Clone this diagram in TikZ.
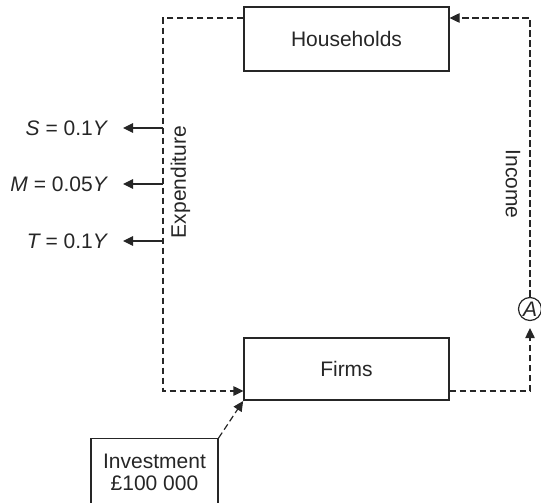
\documentclass[tikz,border=0pt]{standalone}
\usepackage{fontspec}
\setmainfont{Liberation Sans}
\usetikzlibrary{arrows.meta}
\begin{document}
\begin{tikzpicture}[x=1pt,y=-1pt,
  font=\fontsize{21}{22}\selectfont,
  every node/.style={text=black!85},
  boxnode/.style={draw=black!85, line width=1.2pt, minimum width=205pt, inner sep=0pt},
  flow/.style={draw=black!85, line width=1.2pt, dash pattern=on 6.5pt off 3.5pt},
  tipend/.style={-{Triangle[length=10pt,width=9.5pt]}},
  leak/.style={draw=black!85, line width=1.2pt, -{Triangle[length=10pt,width=9.5pt]}},
  lab/.style={anchor=east, inner sep=0pt}]
\clip (0,0) rectangle (541,503);
% boxes
\node[boxnode, minimum height=64pt] (hh) at (346.5,39) {Households};
\node[boxnode, minimum height=62pt] (fi) at (346.5,369) {Firms};
\node[draw=black!85, line width=1.2pt, minimum width=127pt, minimum height=90pt, anchor=north, inner sep=0pt] (inv) at (154.5,438) {};
\node[align=center, inner sep=0pt] (invt) at (154.5,472.5) {Investment\\\pounds100 000};
\node[circle, draw=black!85, line width=1.2pt, minimum size=23pt, inner sep=0pt] (a) at (530,309) {\itshape A};
% corners
\coordinate (tl) at (163,18);
\coordinate (bl) at (163,391);
\coordinate (tr) at (530,18);
\coordinate (br) at (530,391);
% circular flow
\draw[flow, tipend] (hh.west |- tl) -- (tl) -- (bl) -- (fi.west |- bl);
\draw[flow, tipend, shorten >=7pt] (fi.east |- br) -- (br) -- (a.south);
\draw[flow, tipend] (a.north) -- (tr) -- (hh.east |- tr);
\draw[flow, tipend, shorten >=0.5pt] (inv.north east) -- (fi.south west);
% labels
\node[rotate=90] (exp) at (180.5,182) {Expenditure};
\node[rotate=-90] (inc) at (513,184) {Income};
% leakages
\node[lab] (s) at (107,128) {\itshape S\upshape\ = 0.1\itshape Y};
\node[lab] (m) at (107,184) {\itshape M\upshape\ = 0.05\itshape Y};
\node[lab] (t) at (107,241) {\itshape T\upshape\ = 0.1\itshape Y};
\coordinate (s0) at (163,128);
\coordinate (m0) at (163,184);
\coordinate (t0) at (163,241);
\draw[leak, shorten >=16pt] (s0) -- (s.east |- s0);
\draw[leak, shorten >=16pt] (m0) -- (m.east |- m0);
\draw[leak, shorten >=16pt] (t0) -- (t.east |- t0);
\end{tikzpicture}
\end{document}
